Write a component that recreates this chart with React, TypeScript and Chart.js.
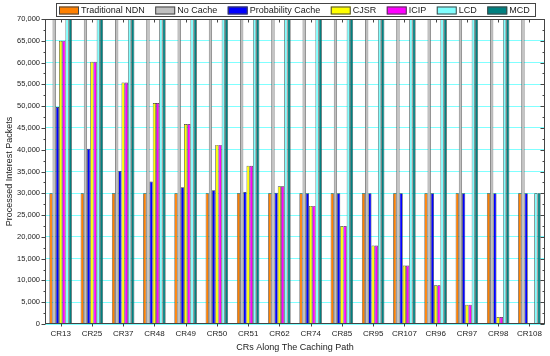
import React, { useEffect, useRef } from "react";
import { Chart, registerables } from "chart.js";

Chart.register(...registerables);

const categories = ["CR13", "CR25", "CR37", "CR48", "CR49", "CR50", "CR51", "CR62", "CR74", "CR85", "CR95", "CR107", "CR96", "CR97", "CR98", "CR108"];
const traditionalNDN = [30000, 30000, 30000, 30000, 30000, 30000, 30000, 30000, 30000, 30000, 30000, 30000, 30000, 30000, 30000, 30000];
const noCache = [70000, 70000, 70000, 70000, 70000, 70000, 70000, 70000, 70000, 70000, 70000, 70000, 70000, 70000, 70000, 70000];
const probabilityCache = [49800, 40200, 35100, 32700, 31400, 30700, 30300, 30100, 30000, 30000, 30000, 30000, 30000, 30000, 30000, 30000];
const cjsr = [65000, 60200, 55400, 50700, 45900, 41100, 36300, 31600, 27100, 22500, 18000, 13400, 8900, 4400, 1600, 0];
const icip = [65000, 60200, 55400, 50700, 45900, 41100, 36300, 31600, 27100, 22500, 18000, 13400, 8900, 4400, 1600, 0];
const lcd = [70000, 70000, 70000, 70000, 70000, 70000, 70000, 70000, 70000, 70000, 70000, 70000, 70000, 70000, 70000, 30000];
const mcd = [70000, 70000, 70000, 70000, 70000, 70000, 70000, 70000, 70000, 70000, 70000, 70000, 70000, 70000, 70000, 30000];

const seriesNames = ["Traditional NDN", "No Cache", "Probability Cache", "CJSR", "ICIP", "LCD", "MCD"];
const seriesColors = ["#FF8000", "#C0C0C0", "#0000FF", "#FFFF00", "#FF00FF", "#80FFFF", "#008080"];
const seriesValues = [traditionalNDN, noCache, probabilityCache, cjsr, icip, lcd, mcd];

const FONT = "'Liberation Sans', Arial, sans-serif";
const TEXT = "#222";
const EDGE = "#444";

const framePlugin = {
  id: "frame",
  afterDatasetsDraw(chart: any) {
    const { ctx, chartArea } = chart;
    const { left, right, top, bottom } = chartArea;
    const xs = chart.scales.x;
    const ys = chart.scales.y;
    ctx.save();
    ctx.strokeStyle = EDGE;
    ctx.lineWidth = 1;
    const L = Math.round(left) + 0.5;
    const R = Math.round(right) - 0.5;
    const T = Math.round(top) + 0.5;
    const B = Math.round(bottom) - 0.5;
    ctx.strokeRect(L, T, R - L, B - T);
    ctx.beginPath();
    for (let v = 0; v <= 70000; v += 2500) {
      const py = Math.round(ys.getPixelForValue(v)) + 0.5;
      const len = v % 5000 === 0 ? 4 : 2;
      ctx.moveTo(L, py);
      ctx.lineTo(L - len, py);
      ctx.moveTo(R, py);
      ctx.lineTo(R - len, py);
    }
    for (let i = 0; i < categories.length; i++) {
      const px = Math.round(xs.getPixelForValue(i)) + 0.5;
      ctx.moveTo(px, B);
      ctx.lineTo(px, B + 3);
      ctx.moveTo(px, T);
      ctx.lineTo(px, T + 3);
    }
    ctx.stroke();
    ctx.restore();
  },
  afterDraw(chart: any) {
    const { ctx } = chart;
    ctx.save();
    ctx.font = `9px ${FONT}`;
    ctx.textBaseline = "middle";
    let x = 59;
    const sy = 6.5;
    const sw = 20;
    const sh = 8;
    chart.data.datasets.forEach((ds: any) => {
      ctx.fillStyle = ds.backgroundColor;
      ctx.fillRect(x, sy, sw, sh);
      ctx.strokeStyle = EDGE;
      ctx.lineWidth = 1;
      ctx.strokeRect(x + 0.5, sy + 0.5, sw - 1, sh - 1);
      ctx.fillStyle = TEXT;
      ctx.fillText(ds.label, x + sw + 2, 10.8);
      x += sw + 2 + ctx.measureText(ds.label).width + 10.5;
    });
    ctx.strokeStyle = EDGE;
    ctx.strokeRect(56.5, 3.5, 479, 13);
    ctx.restore();
  },
};

export default function App() {
  const ref = useRef<HTMLCanvasElement>(null);
  useEffect(() => {
    document.body.style.margin = "0";
    const canvas = ref.current;
    if (!canvas) return;
    const chart = new Chart(canvas, {
      type: "bar",
      data: {
        labels: categories,
        datasets: seriesNames.map((name, i) => ({
          label: name,
          data: seriesValues[i],
          backgroundColor: seriesColors[i],
          borderColor: "#3a3a3a",
          borderWidth: 0.7,
          categoryPercentage: 0.72,
          barPercentage: 1,
        })),
      },
      options: {
        responsive: false,
        animation: false,
        layout: { padding: { top: 19, right: 5, left: 0, bottom: 0 } },
        plugins: { legend: { display: false }, tooltip: { enabled: false } },
        scales: {
          x: {
            grid: { display: false, drawTicks: false },
            border: { display: false },
            ticks: { font: { size: 8, family: FONT }, color: TEXT, padding: 5, maxRotation: 0, autoSkip: false },
            title: { display: true, text: "CRs Along The Caching Path", font: { size: 9, family: FONT }, color: TEXT, padding: { top: 0, bottom: 3 } },
            afterFit: (s: any) => { s.height = 32; },
          },
          y: {
            min: 0,
            max: 70000,
            ticks: {
              stepSize: 5000,
              callback: (v: any) => Number(v).toLocaleString("en-US"),
              font: { size: 7.5, family: FONT },
              color: TEXT,
              padding: 5,
            },
            grid: { color: "#80FFFF", drawTicks: false },
            border: { display: false },
            title: { display: true, text: "Processed Interest Packets", font: { size: 9, family: FONT }, color: TEXT, padding: { top: 4, bottom: 0 } },
            afterFit: (s: any) => { s.width = 45; },
          },
        },
      },
      plugins: [framePlugin],
    } as any);
    return () => chart.destroy();
  }, []);
  return (
    <div style={{ width: 550, height: 356 }}>
      <canvas ref={ref} width={550} height={356} style={{ width: 550, height: 356, display: "block" }} />
    </div>
  );
}
